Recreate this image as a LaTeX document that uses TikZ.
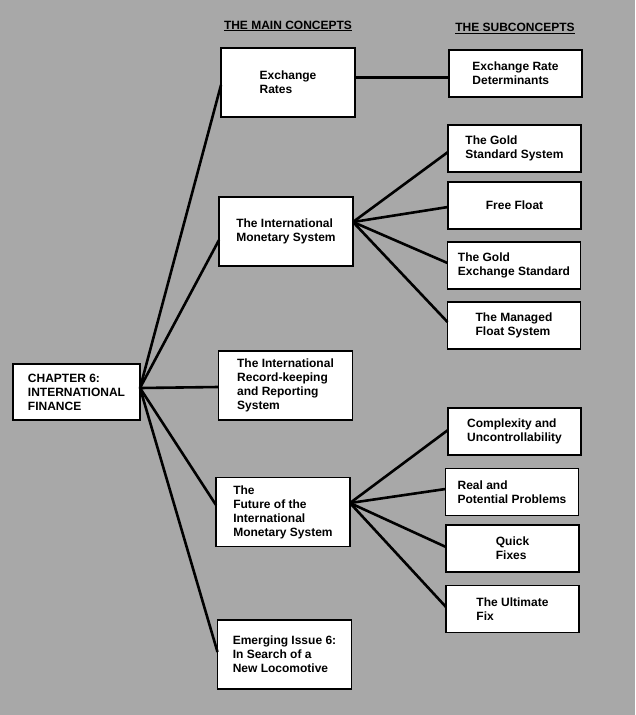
\documentclass[tikz,border=0pt]{standalone}
\usepackage{fontspec}
\setmainfont{Liberation Sans}
\usepackage{tikz}
\usetikzlibrary{positioning,calc}
\definecolor{bggray}{RGB}{168,168,168}

\begin{document}
\begin{tikzpicture}[
            x=1pt, y=-1pt,
            font=\bfseries\fontsize{12}{14}\selectfont,
                box/.style = {rectangle, draw, fill=white, line width=1.6pt,% boxes of the map
                              align=left, inner sep=0pt, outer sep=0pt},
               main/.style = {box, minimum width=134pt, minimum height=69pt},
                sub/.style = {box, minimum width=133pt, minimum height=47pt},
               link/.style = {line width=2.6pt},
              title/.style = {inner sep=0pt},
                ]
            \fill[bggray] (0,0) rectangle (635,715);
            \useasboundingbox (0,0) rectangle (635,715);
            % headings
            \node[title] (mainTitle) at (288,25) {THE MAIN CONCEPTS};
            \node[title] (subTitle)  at (515,27) {THE SUBCONCEPTS};
            \draw[line width=1.2pt] ([yshift=-1pt]mainTitle.south west) -- ([yshift=-1pt]mainTitle.south east);
            \draw[line width=1.2pt] ([yshift=-2pt]subTitle.south west) -- ([yshift=-2pt]subTitle.south east);
            % chapter
            \node[box, minimum width=127pt, minimum height=56pt] (chap) at (76.5,392)
                {CHAPTER 6:\\INTERNATIONAL\\FINANCE};
            % main concepts
            \node[main] (er)  at (288,82.5)  {Exchange\\Rates};
            \node[main] (ims) at (286,231.5) {The International\\Monetary System};
            \node[main] (rec) at (285.5,385.5) {The International\\Record-keeping\\and Reporting\\System};
            \node[main] (fut) at (283,512)   {The\\Future of the\\International\\Monetary System};
            \node[main] (emg) at (284.5,654.5) {Emerging Issue 6:\\In Search of a\\New Locomotive};
            % subconcepts
            \node[sub] (erd) at (515.5,73.5) {Exchange Rate\\Determinants};
            \node[sub] (gss) at (514.5,148.5) {The Gold\\Standard System};
            \node[sub] (ff)  at (514.5,205.5) {Free Float};
            \node[sub] (ges) at (514,265.5)  {The Gold\\Exchange Standard};
            \node[sub] (mfs) at (514,325.5)  {The Managed\\Float System};
            \node[sub] (cu)  at (514.5,431.5) {Complexity and\\Uncontrollability};
            \node[sub] (rp)  at (512,492)    {Real and\\Potential Problems};
            \node[sub] (qf)  at (512.5,548.5) {Quick\\Fixes};
            \node[sub] (uf)  at (512.5,609)  {The Ultimate\\Fix};
            % hubs where the lines meet
            \coordinate (chapHub) at ([yshift=4pt]chap.east);
            \coordinate (imsHub)  at ([yshift=9.5pt]ims.east);
            \coordinate (futHub)  at ([yshift=9pt]fut.east);
            \foreach \dst/\dy in {er/-2.5, ims/-8.5, rec/-1.5, fut/7, emg/2.5}
                \draw[link] (chapHub) -- ([yshift=\dy pt]\dst.west);
            \foreach \dst/\dy in {gss/-3.5, ff/-1.5, ges/2.5, mfs/3.5}
                \draw[link] (imsHub) -- ([yshift=\dy pt]\dst.west);
            \foreach \dst/\dy in {cu/1.5, rp/3, qf/1.5, uf/2}
                \draw[link] (futHub) -- ([yshift=\dy pt]\dst.west);
            \draw[link] ([yshift=5pt]er.east) -- ([yshift=5pt]er.east -| erd.west);
        \end{tikzpicture}
\end{document}
